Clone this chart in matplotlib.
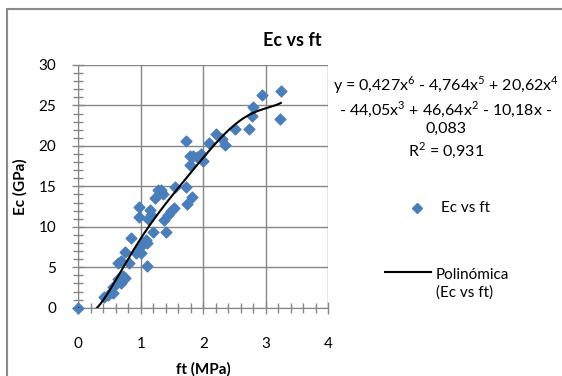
import numpy as np
import matplotlib
matplotlib.use("Agg")
import matplotlib.pyplot as plt
from matplotlib.patches import Rectangle
from matplotlib.lines import Line2D

# data
ft = [0.0, 0.41, 0.47, 0.56, 0.55, 0.64, 0.68, 0.74, 0.71, 0.64, 0.68, 0.81,
      0.75, 0.84, 0.93, 1.00, 0.98, 1.10, 0.97, 0.97, 1.04, 1.08, 1.10, 1.12,
      1.14, 1.17, 1.20, 1.22, 1.28, 1.33, 1.36, 1.37, 1.41, 1.44, 1.49, 1.53,
      1.54, 1.72, 1.73, 1.74, 1.82, 1.78, 1.78, 1.84, 1.90, 1.97, 2.00, 2.09,
      2.20, 2.30, 2.34, 2.51, 2.73, 2.78, 2.79, 2.94, 3.24, 3.23]
ec = [0.0, 1.3, 1.6, 1.85, 2.5, 3.5, 3.0, 3.7, 3.9, 5.5, 5.8, 5.5,
      6.9, 8.6, 6.8, 6.7, 7.5, 5.1, 11.25, 12.4, 8.0, 8.4, 8.0, 11.0,
      12.1, 11.5, 9.4, 13.5, 14.5, 14.6, 14.0, 10.8, 9.4, 11.5, 11.9, 12.3,
      14.9, 20.6, 14.9, 12.8, 13.7, 18.7, 17.6, 18.7, 18.6, 19.0, 18.1, 20.3,
      21.5, 20.9, 20.1, 22.1, 22.1, 23.7, 24.8, 26.3, 26.8, 23.3]

eq_text = ("y = 0,427x$^6$ - 4,764x$^5$ + 20,62x$^4$\n- 44,05x$^3$ + 46,64x$^2$ - 10,18x -\n"
           "0,083\nR$^2$ = 0,931")

plt.rcParams['font.family'] = ['Lato', 'DejaVu Sans']
plt.rcParams['mathtext.fontset'] = 'custom'
plt.rcParams['mathtext.rm'] = 'Lato'

fig = plt.figure(figsize=(5.62, 3.76), dpi=100)
ax = fig.add_axes([78.3/562, 1 - 307.7/376, 250/562, 242.7/376])

blue = '#4a7ebb'
gray = '#868686'

ax.scatter(ft, ec, marker='D', s=30, color=blue, zorder=3, clip_on=False)

# 6th order polynomial trend line
coef = np.polyfit(ft, ec, 6)
xs = np.linspace(0, max(ft), 300)
ax.plot(xs, np.polyval(coef, xs), color='black', lw=1.5, zorder=4)

ax.set_xlim(0, 4)
ax.set_ylim(0, 30)
ax.set_xticks(range(0, 5))
ax.set_yticks(range(0, 31, 5))
ax.set_xticks(np.arange(0, 4.01, 0.2), minor=True)
ax.set_yticks(range(0, 31), minor=True)
ax.grid(True, which='major', color=gray, lw=1)
ax.set_axisbelow(True)
for s in ax.spines.values():
    s.set_visible(False)
ax.spines['left'].set_visible(True)
ax.spines['bottom'].set_visible(True)
ax.spines['left'].set_color(gray)
ax.spines['bottom'].set_color(gray)
ax.tick_params(which='both', direction='inout', color=gray, labelsize=11)
ax.tick_params(which='major', length=8, width=1)
ax.tick_params(which='minor', length=7, width=1)
ax.tick_params(axis='x', pad=17)
ax.tick_params(axis='y', pad=12)

ax.set_xlabel('ft (MPa)', fontsize=11, fontweight='bold', labelpad=8)
ax.set_ylabel('Ec (GPa)', fontsize=11, fontweight='bold', labelpad=8)
fig.text(292/562, 1 - 40/376, 'Ec vs ft', fontsize=13, fontweight='bold',
         ha='center', va='center')

fig.text(446/562, 1 - 117/376, eq_text, fontsize=11.5, ha='center', va='center',
         linespacing=1.25)

# legend
fig.add_artist(Line2D([417/562], [1 - 208/376], marker='D', markersize=5.5,
                      color=blue, linestyle='none'))
fig.text(441/562, 1 - 208/376, 'Ec vs ft', fontsize=11, va='center')
fig.add_artist(Line2D([385/562, 431/562], [1 - 272/376] * 2, color='black', lw=1.5))
fig.text(436/562, 1 - 284/376, 'Polinómica\n(Ec vs ft)', fontsize=11,
         va='center', linespacing=1.35)

# chart border
fig.add_artist(Rectangle((7/562, -0.1), 1.0, 1 - 9/376 + 0.1,
                         transform=fig.transFigure, fill=False,
                         edgecolor='#898989', lw=1.5))

fig.savefig('out.png', dpi=100)
